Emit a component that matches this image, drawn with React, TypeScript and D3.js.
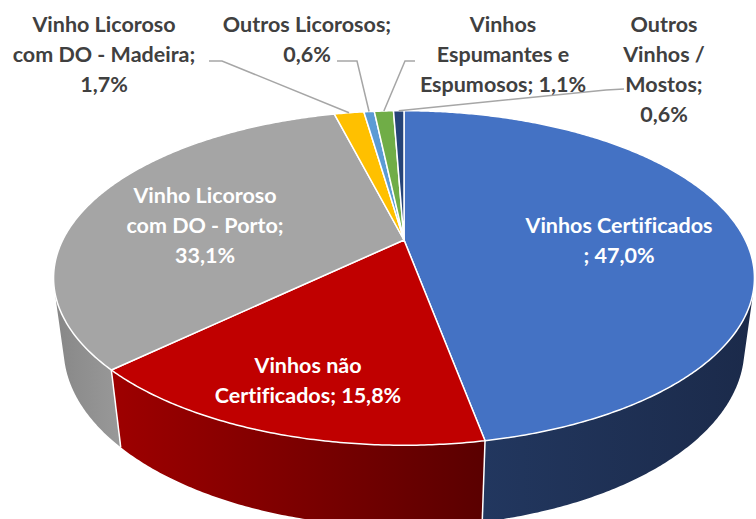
import React from 'react'
import * as d3 from 'd3'

// shares of each category (%)
const categories = [
  'Vinhos Certificados',
  'Vinhos não Certificados',
  'Vinho Licoroso com DO - Porto',
  'Vinho Licoroso com DO - Madeira',
  'Outros Licorosos',
  'Vinhos Espumantes e Espumosos',
  'Outros Vinhos / Mostos',
]
const shares = [47.0, 15.8, 33.1, 1.7, 0.6, 1.1, 0.6]
const colors = ['#4472C4', '#C00000', '#A5A5A5', '#FFC000', '#5B9BD5', '#70AD47', '#264478']
// label text lines, {p} = formatted share
const labelLines = [
  ['Vinhos Certificados', '; {p}'],
  ['Vinhos não', 'Certificados; {p}'],
  ['Vinho Licoroso', 'com DO - Porto;', '{p}'],
  ['Vinho Licoroso', 'com DO - Madeira;', '{p}'],
  ['Outros Licorosos;', '{p}'],
  ['Vinhos', 'Espumantes e', 'Espumosos; {p}'],
  ['Outros', 'Vinhos /', 'Mostos;', '{p}'],
]
const insideLabel = [true, true, true, false, false, false, false]

// layout
const W = 756
const H = 519
const labelPos: [number, number][] = [
  [619, 225], [308, 365], [205, 195], [104, 24], [307, 24], [503, 24], [664, 24],
]
const leaderStart: ([number, number][] | null)[] = [
  null, null, null,
  [[209, 61], [222, 61]],
  [[337, 61], [357, 61]],
  [[415, 61], [405, 61]],
  [[624, 89], [606, 90]],
]
// wall gradient stops (left -> right)
const wallShades: Record<number, [string, string]> = {
  0: ['#22375f', '#1b2a4a'],
  1: ['#9e0000', '#5a0000'],
  2: ['#878787', '#999999'],
}

// perspective camera for the 3D pie
const cam = { cx: 404, cy: 240, f: 1331, D: 3.9, alpha: (27.7 * Math.PI) / 180, t: 0.235 }
const ca = Math.cos(cam.alpha)
const sa = Math.sin(cam.alpha)

function project(theta: number, Y: number, r = 1): [number, number] {
  const X = r * Math.sin(theta)
  const Z = r * Math.cos(theta)
  const v = Y * ca + Z * sa
  const w = cam.D + Z * ca - Y * sa
  return [cam.cx + (cam.f * X) / w, cam.cy - (cam.f * v) / w]
}

const fmt = (v: number) => v.toFixed(1).replace('.', ',') + '%'

export default function App() {
  const arcs = d3.pie<number>().sort(null).startAngle(0).endAngle(2 * Math.PI)(shares)
  const line = d3.line()
  const step = Math.PI / 360

  const arcPoints = (a0: number, a1: number, Y: number) => {
    const n = Math.max(2, Math.ceil((a1 - a0) / step))
    return d3.range(n + 1).map((i) => project(a0 + ((a1 - a0) * i) / n, Y))
  }

  // visible range of the outer wall
  const visCos = -1 / (cam.D * ca)
  const vis0 = Math.acos(visCos)
  const vis1 = 2 * Math.PI - vis0

  const center = project(0, 0, 0)

  const walls = arcs
    .map((a, i) => {
      const a0 = Math.max(a.startAngle, vis0)
      const a1 = Math.min(a.endAngle, vis1)
      if (a1 <= a0) return null
      const top = arcPoints(a0, a1, 0)
      const bot = arcPoints(a0, a1, -cam.t).reverse()
      const xs = top.concat(bot).map((p) => p[0])
      return { i, d: line(top.concat(bot))! + 'Z', x0: d3.min(xs)!, x1: d3.max(xs)!, a0, a1 }
    })
    .filter((w) => w !== null) as { i: number; d: string; x0: number; x1: number; a0: number; a1: number }[]

  const wallEdges = arcs
    .map((a) => a.startAngle)
    .filter((ang) => ang > vis0 && ang < vis1)
    .map((ang) => [project(ang, 0), project(ang, -cam.t)])

  const tops = arcs.map((a) => line([center, ...arcPoints(a.startAngle, a.endAngle, 0)])! + 'Z')

  const fontFamily = 'Lato, "Open Sans", sans-serif'
  const fontSize = 21.5
  const lh = 30

  return (
    <svg width={W} height={H} style={{ position: 'absolute', left: 0, top: 0, background: '#fff' }}>
      <defs>
        {walls.map((w) => (
          <linearGradient key={w.i} id={`wall${w.i}`} gradientUnits="userSpaceOnUse" x1={w.x0} x2={w.x1} y1={0} y2={0}>
            <stop offset="0" stopColor={wallShades[w.i]?.[0] ?? colors[w.i]} />
            <stop offset="1" stopColor={wallShades[w.i]?.[1] ?? colors[w.i]} />
          </linearGradient>
        ))}
      </defs>
      {walls.map((w) => (
        <path key={w.i} d={w.d} fill={`url(#wall${w.i})`} />
      ))}
      {wallEdges.map((e, k) => (
        <line key={k} x1={e[0][0]} y1={e[0][1]} x2={e[1][0]} y2={e[1][1]} stroke="#fff" strokeWidth={1.5} />
      ))}
      {tops.map((d, i) => (
        <path key={i} d={d} fill={colors[i]} stroke="#fff" strokeWidth={1.5} strokeLinejoin="round" />
      ))}
      {arcs.map((a, i) => {
        const ls = leaderStart[i]
        if (!ls) return null
        const mid = (a.startAngle + a.endAngle) / 2
        const end = project(mid, 0)
        return <path key={i} d={line([...ls, end])!} fill="none" stroke="#A6A6A6" strokeWidth={1.5} />
      })}
      {categories.map((c, i) => (
        <text
          key={c}
          fontFamily={fontFamily}
          fontSize={fontSize}
          fontWeight="bold"
          textAnchor="middle"
          fill={insideLabel[i] ? '#ffffff' : '#404040'}
          style={{ fontVariantLigatures: 'none' }}
        >
          {labelLines[i].map((s, k) => (
            <tspan key={k} x={labelPos[i][0]} y={labelPos[i][1] + k * lh} dy="0.35em">
              {s.replace('{p}', fmt(shares[i]))}
            </tspan>
          ))}
        </text>
      ))}
    </svg>
  )
}
